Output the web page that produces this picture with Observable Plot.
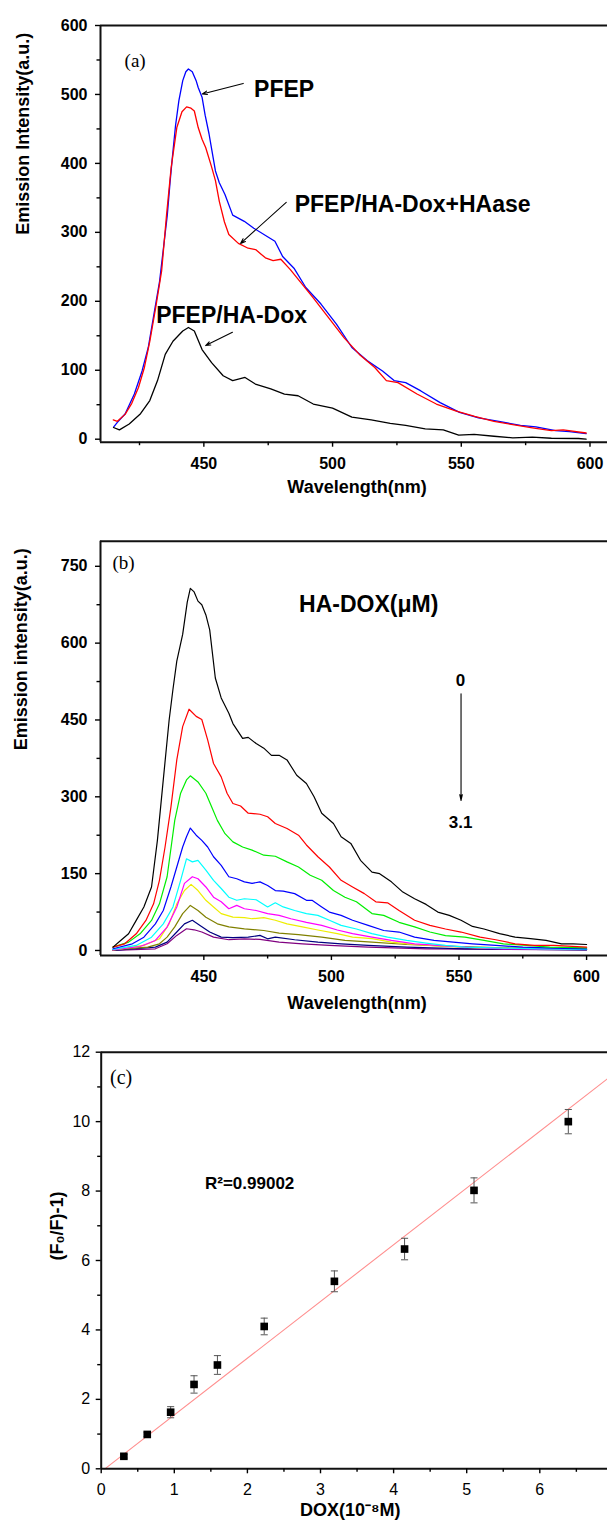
<!DOCTYPE html>
<html><head><meta charset="utf-8">
<script src="https://cdn.jsdelivr.net/npm/d3@7"></script>
<script src="https://cdn.jsdelivr.net/npm/@observablehq/plot@0.6"></script>
<style>
html,body{margin:0;padding:0;background:#fff;}
#wrap{position:relative;width:607px;height:1523px;overflow:hidden;background:#fff;}
#wrap svg{position:absolute;left:0;}
</style></head><body><div id="wrap"></div>
<script>
// ---------------- Panel (a) data: [wavelength nm, intensity a.u.] ----------------
const pfep = [[415,18],[416.4,24.5],[419.4,36.6],[423,65.5],[426,99],[428.4,133],[430.6,181],[432.8,229],[434.3,277],[435.8,325],[436.9,374],[437.8,410],[439,455],[440.3,491],[441.8,520],[443,533],[444,537],[445.5,533],[447,520],[447.8,510],[449.3,496],[450.5,470],[452,443],[453.3,415],[454.5,389],[456,372],[458.2,355],[461.2,325],[465.7,316],[469.4,306],[474.6,294],[477.6,287],[480.6,265],[485,248],[489.6,220],[495.5,196],[501.5,167],[507.5,133],[513.4,114],[519.4,99],[523.9,85],[528.4,82],[534.3,70],[541.8,53],[549.3,39],[556.7,31],[565.7,25],[573,20],[579,18],[586.6,12.5],[592,11],[598.5,8]];
const pfepHAase = [[414.8,28],[416.4,26],[419.4,36],[422,52],[424.6,75],[426.9,104],[429,142],[431.3,191],[433.6,244],[435.5,325],[437.3,394],[439.5,452],[441.5,475],[443.3,482],[445,480],[446.3,476],[447.8,452],[449.3,435],[450.7,423],[453,395],[454.5,375],[456,345],[458,315],[459.7,297],[463.4,284],[467.2,277],[470.1,275],[473.9,263],[476.9,259],[479.9,261],[483.6,246],[487.3,229],[492.5,205],[498.5,176],[504.5,147],[510.4,123],[516.4,104],[520.9,85],[525.4,82],[532.8,65.5],[540.3,51],[547.8,41],[555.2,33],[562.7,26],[570,21],[577.6,16.4],[585,12.5],[589.6,13.5],[598.5,9]];
const pfepHADox = [[414.9,17],[417.2,13.5],[421,22],[425.4,37],[429,56],[432,85],[435,123],[438,142],[441.8,157],[444,162],[446.3,157],[449.3,130],[453,111],[457.5,92],[461.2,85],[466,89.5],[470,80],[476,73],[481.3,65.5],[486.6,63],[492.5,51],[500,45],[507.5,32],[515,28],[522.4,23],[528.4,20],[536,15],[543,13.5],[549,6],[555,7],[562.7,4.3],[570,2],[577.6,3],[585,1.4],[595.5,1],[598.5,0]];
const seriesA = [
  {name: "PFEP", color: "#0000ff", data: pfep},
  {name: "PFEP/HA-Dox+HAase", color: "#ff0000", data: pfepHAase},
  {name: "PFEP/HA-Dox", color: "#000000", data: pfepHADox}
];
const aXDomain = [409.85, 606.8], aYDomain = [-4.35, 600];
const aXTicks = [450, 500, 550, 600], aXMinor = [425, 475, 525, 575];
const aYTicks = [0, 100, 200, 300, 400, 500, 600], aYMinor = [50, 150, 250, 350, 450, 550];
// annotation anchors (data units)
const aLabels = [
  {t: "PFEP", x: 469.5, y: 507},
  {t: "PFEP/HA-Dox+HAase", x: 485.3, y: 340},
  {t: "PFEP/HA-Dox", x: 431.5, y: 179}
];
const aArrows = [
  {x1: 465.3, y1: 516, x2: 449.4, y2: 500.6},
  {x1: 482, y1: 343.5, x2: 464.3, y2: 284},
  {x1: 461.1, y1: 155, x2: 450.7, y2: 135.8}
];
const aTag = {t: "(a)", x: 419.2, y: 549};

// ---------------- Panel (b) data: HA-DOX 0 → 3.1 µM ----------------
const b0 = [[414.4,6.5],[417.4,19.6],[420.5,32.6],[423.5,58.7],[426.5,84.8],[429.5,124],[431.8,215],[434.1,333],[436.4,450],[437.9,510],[439.4,565],[441.7,617],[443.5,680],[444.7,707],[446.2,700],[447.7,682],[449.2,675],[450.8,655],[452.3,626],[454.5,532],[456.8,493],[459.8,463],[461.4,443],[465.2,414],[467.4,416],[470.5,404],[473.5,395],[476.5,381],[479.5,381],[482.6,372],[486.4,342],[490.2,326],[493.2,300],[496.2,268],[500.8,248],[503.8,222],[507.6,209],[511.4,176],[515.9,153],[518.9,150],[523.5,134],[528,114],[532.6,101],[537.1,90],[541.7,75],[546.2,68.5],[550.8,59],[555.3,47],[559.8,42],[565.9,33],[572,26],[578,23],[584.1,19.6],[590.2,13],[594.7,13],[600,11.7]];
const b1 = [[414.4,6.5],[419,13],[423.5,32.6],[427.3,58.7],[430.3,91],[432.6,137],[434.8,202],[437.1,280],[439.4,372],[441.7,437],[444.2,471],[447,457],[449.2,451],[451.5,411],[453.8,365],[456.8,339],[459.1,307],[461.4,287],[464.4,282],[467.4,268],[472,266],[475,261],[478,248],[482.6,238],[487.1,225],[490.2,206],[494.7,183],[499.2,163],[503.8,137],[508.3,124],[512.9,111],[517.4,95],[522,93],[526.5,78],[532.6,59],[538.6,49],[544.7,42],[550.8,36],[558.3,26],[564.4,21],[572,13],[579.5,10],[587.1,10],[600,6.5]];
const b2 = [[414.4,6.5],[420.5,16.3],[425,32.6],[429.5,58.7],[432.6,91],[435.6,144],[438.6,254],[440.9,307],[443.2,333],[444.7,341],[447.7,329],[450.8,307],[453,281],[455.3,254],[458.3,228],[461.4,212],[465.2,202],[468.9,196],[473.5,186],[478,184],[482.6,173],[487.1,163],[491.7,147],[496.2,137],[500.8,117],[505.3,104],[509.8,95],[515.9,72],[520.5,68.5],[526.5,55],[532.6,46],[538.6,36],[544.7,29],[552.3,26],[559.8,19.6],[567.4,13],[576.5,9.8],[585.6,6.5],[600,5.2]];
const b3 = [[414.4,3.3],[422,13],[426.5,26],[431,52],[434.1,78],[437.1,124],[439.4,163],[441.7,202],[443.2,222],[444.7,239],[447,225],[449.2,215],[451.5,202],[453.8,183],[456.8,166],[459.8,144],[462.9,140],[465.9,134],[468.9,131],[472,134],[475,127],[478,117],[481.1,116],[485.6,111],[490.2,98],[492.4,98],[496.2,85],[499.2,75],[503.8,68.5],[508.3,59],[514.4,49],[520.5,39],[526.5,36],[532.6,26],[540.2,19.6],[547.7,16.3],[555.3,13],[564.4,9.8],[575,6.5],[587.1,4.6],[600,3.3]];
const b4 = [[414.4,2],[423.5,9.8],[429.5,26],[434.1,52],[437.9,85],[440.9,137],[443.2,179],[445.5,173],[447.7,176],[450.8,157],[453.8,137],[456.8,121],[459.8,104],[462.9,98],[465.9,101],[470.5,99],[475,85],[478,93],[481.1,85],[485.6,78],[490.2,72],[494.7,68.5],[499.2,59],[503.8,49],[509.8,42],[515.9,33],[522,26],[529.5,19.6],[537.1,14.4],[544.7,9.8],[552.3,6.5],[567.4,4.6],[582.6,3.3],[600,2]];
const b5 = [[414.4,1.3],[425,7.8],[431,19.6],[435.6,45.7],[439.4,85],[442.4,131],[445.5,144],[447.7,140],[450.8,124],[453.8,104],[456.8,95],[459.8,81.5],[462.9,88],[465.9,81.5],[470.5,78],[475,72],[479.5,68.5],[484.1,62],[490.2,55],[496.2,49],[502.3,40],[508.3,33],[515.9,26],[523.5,19.6],[532.6,13],[541.7,9.8],[552.3,6.5],[567.4,3.3],[600,2]];
const b6 = [[414.4,1.3],[426.5,9.8],[432.6,22.8],[436.4,52],[439.4,91],[442.4,117],[445,129],[447.7,117],[450.8,98],[453.8,85],[456.8,72],[461.4,65],[465.9,64],[468.9,62],[473.5,64],[478,59],[482.6,52],[488.6,46],[494.7,40],[502.3,33],[508.3,26],[515.9,23],[523.5,16.3],[532.6,11.7],[544.7,7.8],[559.8,4.6],[600,2.6]];
const b7 = [[414.4,1.3],[428,6.5],[432.6,13],[435.6,26],[438.6,46],[441.7,72],[444.7,88],[447.7,78],[450.8,65],[455.3,52],[459.8,46],[465.9,42],[473.5,39],[479.5,34],[487.1,31],[496.2,26],[505.3,19.6],[515.9,16.3],[529.5,11.7],[544.7,8.5],[567.4,5.2],[600,3.3]];
const b8 = [[414.4,0],[431,6.5],[435.6,16.3],[439.4,36],[442.4,52],[445.5,59],[448.5,49],[452.3,36],[456.8,26],[461.4,25],[467.4,26],[472,29.4],[475,22.8],[478,26],[485.6,21],[494.7,16.3],[503.8,13],[514.4,9.8],[529.5,6.5],[552.3,3.3],[600,1.3]];
const b9 = [[414.4,0],[431,3.3],[435.6,13],[439.4,29.4],[443.2,42.4],[446.2,40.4],[449.2,36],[453.8,26],[459.8,21],[465.9,22.8],[472,21.5],[479.5,16.3],[488.6,13],[499.2,9.8],[514.4,6.5],[537.1,3.3],[600,1.3]];
const bCurves = [b0, b1, b2, b3, b4, b5, b6, b7, b8, b9];
const bColors = ["#000000", "#ff0000", "#00ee00", "#0000ff", "#00ffff", "#ff00ff", "#eeee00", "#808000", "#000080", "#800080"];
const bXDomain = [409.5, 608.2], bYDomain = [-9.8, 799];
const bXTicks = [450, 500, 550, 600], bXMinor = [425, 475, 525, 575];
const bYTicks = [0, 150, 300, 450, 600, 750], bYMinor = [75, 225, 375, 525, 675];
const bLegend = [
  {t: "HA-DOX(\u03BCM)", x: 514.6, y: 676, anchor: "start", size: 23},
  {t: "0", x: 550.6, y: 527, anchor: "middle", size: 17},
  {t: "3.1", x: 550.6, y: 250, anchor: "middle", size: 17}
];
const bArrow = [{x1: 550.8, y1: 501, x2: 550.8, y2: 293}];
const bTag = {t: "(b)", x: 414.2, y: 757};

// ---------------- Panel (c) data ----------------
const dox = [0.31, 0.63, 0.95, 1.27, 1.59, 2.23, 3.19, 4.15, 5.10, 6.39];
const quench = [0.36, 0.99, 1.63, 2.43, 2.99, 4.10, 5.40, 6.33, 8.02, 10.0];
const quenchErr = [0.05, 0.06, 0.16, 0.25, 0.27, 0.24, 0.30, 0.31, 0.36, 0.35];
const fitSlope = 1.634, fitIntercept = -0.082, fitRange = [0.05, 6.93];
const cXDomain = [0, 6.926], cYDomain = [0, 12];
const cXTicks = [0, 1, 2, 3, 4, 5, 6], cXMinor = [0.5, 1.5, 2.5, 3.5, 4.5, 5.5, 6.5];
const cYTicks = [0, 2, 4, 6, 8, 10, 12], cYMinor = [1, 3, 5, 7, 9, 11];
const cTag = {t: "(c)", x: 0.12, y: 11.28};
const cR2 = {t: "R\u00B2=0.99002", x: 1.42, y: 8.21};

// ---------------- helpers ----------------
const SANS = "'Liberation Sans', Arial, Helvetica, sans-serif";
const SERIF = "'Liberation Serif', 'Times New Roman', Times, serif";
const XY = {x: d => d[0], y: d => d[1]};

function frameMarks(xd, yd) {
  return [
    Plot.ruleY([yd[1]], {stroke: "#111", strokeWidth: 2}),
    Plot.ruleX([xd[0]], {stroke: "#111", strokeWidth: 2}),
    Plot.ruleY([yd[0]], {stroke: "#111", strokeWidth: 2})
  ];
}
function axisMarks(o) {
  const common = {fontFamily: SANS, fontSize: o.font, fontWeight: o.weight, label: null, strokeWidth: 1.4};
  return [
    Plot.axisX({...common, ticks: o.xMajor, tickSize: 5, tickPadding: o.xPad, tickFormat: d => String(d)}),
    Plot.axisX({...common, ticks: o.xMinor, tickSize: 3.5, tickFormat: () => ""}),
    Plot.axisY({...common, ticks: o.yMajor, tickSize: 5, tickPadding: o.yPad, tickFormat: d => String(d)}),
    Plot.axisY({...common, ticks: o.yMinor, tickSize: 3.5, tickFormat: () => ""})
  ];
}
const baseStyle = {fontFamily: SANS, fontSize: "16px", background: "transparent", overflow: "visible", color: "#000"};
const wrap = document.getElementById("wrap");
function place(svg, top) { svg.style.top = top + "px"; wrap.appendChild(svg); }

// ---------------- Panel (a) ----------------
const A = Plot.plot({
  width: 607, height: 520, marginLeft: 100, marginRight: 0, marginTop: 25, marginBottom: 78.3,
  style: baseStyle,
  x: {domain: aXDomain}, y: {domain: aYDomain},
  marks: [
    ...seriesA.map(s => Plot.line(s.data, {...XY, stroke: s.color, strokeWidth: 1.3})),
    ...frameMarks(aXDomain, aYDomain),
    ...axisMarks({xMajor: aXTicks, xMinor: aXMinor, yMajor: aYTicks, yMinor: aYMinor, font: 16, weight: "bold", xPad: 10, yPad: 8}),
    Plot.text(aLabels, {x: "x", y: "y", text: "t", textAnchor: "start", fontSize: 23, fontWeight: "bold", fontFamily: SANS}),
    Plot.arrow(aArrows, {x1: "x1", y1: "y1", x2: "x2", y2: "y2", stroke: "#000", strokeWidth: 1.1, headLength: 7, headAngle: 40}),
    Plot.text([aTag], {x: "x", y: "y", text: "t", textAnchor: "start", fontSize: 19, fontFamily: SERIF}),
    Plot.text(["Wavelength(nm)"], {frameAnchor: "bottom", dy: 51, dx: 3, text: d => d, fontSize: 18, fontWeight: "bold"}),
    Plot.text(["Emission Intensity(a.u.)"], {frameAnchor: "left", dx: -77, dy: 1, rotate: -90, text: d => d, fontSize: 18, fontWeight: "bold"})
  ]
});
place(A, 0);

// ---------------- Panel (b) ----------------
const bOrder = d3.range(bCurves.length).reverse();
const B = Plot.plot({
  width: 607, height: 505, marginLeft: 100, marginRight: 0, marginTop: 20.7, marginBottom: 70,
  style: baseStyle,
  x: {domain: bXDomain}, y: {domain: bYDomain},
  marks: [
    ...bOrder.map(i => Plot.line(bCurves[i], {...XY, stroke: bColors[i], strokeWidth: 1.2})),
    ...frameMarks(bXDomain, bYDomain),
    ...axisMarks({xMajor: bXTicks, xMinor: bXMinor, yMajor: bYTicks, yMinor: bYMinor, font: 16, weight: "bold", xPad: 10, yPad: 8}),
    Plot.text(bLegend, {x: "x", y: "y", text: "t", textAnchor: d => d.anchor, fontSize: d => d.size, fontWeight: "bold", fontFamily: SANS}),
    Plot.arrow(bArrow, {x1: "x1", y1: "y1", x2: "x2", y2: "y2", stroke: "#000", strokeWidth: 1.1, headLength: 8, headAngle: 25}),
    Plot.text([bTag], {x: "x", y: "y", text: "t", textAnchor: "start", fontSize: 19, fontFamily: SERIF}),
    Plot.text(["Wavelength(nm)"], {frameAnchor: "bottom", dy: 53.3, dx: 3, text: d => d, fontSize: 18, fontWeight: "bold"}),
    Plot.text(["Emission intensity(a.u.)"], {frameAnchor: "left", dx: -79, dy: 2, rotate: -90, text: d => d, fontSize: 18, fontWeight: "bold"})
  ]
});
place(B, 520);

// ---------------- Panel (c) ----------------
const cPoints = dox.map((x, i) => ({x, y: quench[i], e: quenchErr[i]}));
const fitLine = fitRange.map(x => ({x, y: fitSlope * x + fitIntercept}));
const capSymbol = {draw(ctx, size) { const w = Math.sqrt(size) / 2; ctx.moveTo(-w, 0); ctx.lineTo(w, 0); }};
const C = Plot.plot({
  width: 607, height: 498, marginLeft: 100.7, marginRight: 0, marginTop: 26.7, marginBottom: 54.7,
  style: baseStyle,
  x: {domain: cXDomain}, y: {domain: cYDomain},
  marks: [
    Plot.line(fitLine, {x: "x", y: "y", stroke: "#ff8f8f", strokeWidth: 1.1}),
    Plot.ruleX(cPoints, {x: "x", y1: d => d.y - d.e, y2: d => d.y + d.e, stroke: "#555", strokeWidth: 1}),
    Plot.dot(cPoints, {x: "x", y: d => d.y - d.e, symbol: capSymbol, r: 4, stroke: "#555", strokeWidth: 1, fill: "none"}),
    Plot.dot(cPoints, {x: "x", y: d => d.y + d.e, symbol: capSymbol, r: 4, stroke: "#555", strokeWidth: 1, fill: "none"}),
    Plot.dot(cPoints, {x: "x", y: "y", symbol: "square", r: 4.3, fill: "#000", stroke: "none"}),
    ...frameMarks(cXDomain, cYDomain),
    ...axisMarks({xMajor: cXTicks, xMinor: cXMinor, yMajor: cYTicks, yMinor: cYMinor, font: 16, weight: "normal", xPad: 10, yPad: 6}),
    Plot.text([cTag], {x: "x", y: "y", text: "t", textAnchor: "start", fontSize: 20, fontFamily: SERIF}),
    Plot.text([cR2], {x: "x", y: "y", text: "t", textAnchor: "start", fontSize: 17, fontWeight: "bold", fontFamily: SANS}),
    Plot.text(["DOX(10\u207B\u2078M)"], {frameAnchor: "bottom", dy: 47, dx: -4, text: d => d, fontSize: 18, fontWeight: "bold"}),
    Plot.text(["(F\u2080/F)-1)"], {frameAnchor: "left", dx: -44, rotate: -90, text: d => d, fontSize: 18, fontWeight: "bold"})
  ]
});
place(C, 1025);
</script></body></html>
